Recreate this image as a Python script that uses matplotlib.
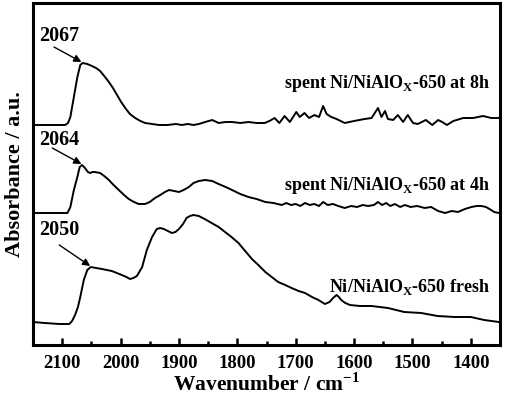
import matplotlib
matplotlib.use("Agg")
import matplotlib.pyplot as plt
from matplotlib.ticker import MultipleLocator

plt.rcParams['font.family'] = ['Liberation Serif', 'DejaVu Serif']
plt.rcParams['font.weight'] = 'bold'
plt.rcParams['mathtext.fontset'] = 'custom'
plt.rcParams['mathtext.rm'] = 'Liberation Serif:bold'

# ---- data (absorbance in arbitrary units, vertical offsets included) ----
wn_8h = [2150, 2095, 2090, 2086, 2080, 2074, 2069, 2065, 2057, 2049, 2042, 2035, 2028, 2020,
         2013, 2006, 1999, 1992, 1984, 1975, 1966, 1958, 1946, 1934, 1920, 1905, 1895, 1885,
         1875, 1866, 1855, 1843, 1832, 1820, 1809, 1795, 1781, 1767, 1753, 1745, 1736, 1728,
         1719, 1710, 1699, 1693, 1685, 1677, 1668, 1660, 1653, 1647, 1639, 1630, 1616, 1600,
         1582, 1570, 1559, 1553, 1547, 1542, 1533, 1525, 1516, 1508, 1499, 1491, 1477, 1466,
         1456, 1449, 1441, 1430, 1413, 1396, 1379, 1365, 1352]
ab_8h = [220, 220, 222, 228, 248, 268, 280, 282, 281, 279, 277, 274, 269, 263,
         257, 250, 243, 237, 231, 227, 224, 222, 221, 220, 220, 221, 220, 221,
         220, 221, 223, 225, 222, 223, 223, 222, 223, 222, 222, 224, 227, 222,
         229, 223, 233, 228, 232, 227, 230, 228, 239, 231, 228, 226, 222, 224,
         226, 227, 237, 228, 234, 226, 225, 230, 223, 230, 222, 221, 225, 220,
         225, 223, 220, 224, 227, 227, 229, 227, 227]

wn_4h = [2150, 2091, 2086, 2080, 2074, 2070, 2066, 2061, 2056, 2052, 2048, 2044, 2035, 2028,
         2020, 2012, 2003, 1994, 1986, 1977, 1969, 1958, 1950, 1941, 1932, 1924, 1917, 1908,
         1900, 1892, 1883, 1875, 1866, 1855, 1843, 1832, 1820, 1809, 1795, 1781, 1767, 1752,
         1738, 1724, 1716, 1708, 1700, 1692, 1684, 1676, 1668, 1660, 1653, 1645, 1636, 1627,
         1616, 1605, 1595, 1585, 1576, 1566, 1559, 1552, 1545, 1538, 1530, 1521, 1513, 1503,
         1492, 1479, 1468, 1456, 1444, 1433, 1422, 1410, 1399, 1390, 1382, 1374, 1368, 1360, 1352]
ab_4h = [132, 132, 138, 155, 168, 178, 180, 177, 173, 172, 173, 173, 172, 169,
         165, 160, 155, 150, 146, 143, 141, 141, 143, 147, 150, 153, 155, 154,
         153, 155, 158, 162, 164, 165, 164, 161, 158, 155, 151, 148, 146, 143,
         142, 140, 142, 140, 141, 139, 142, 140, 141, 139, 143, 140, 141, 139,
         137, 139, 138, 140, 139, 140, 143, 140, 142, 139, 141, 138, 140, 138,
         139, 137, 138, 134, 132, 134, 133, 136, 138, 139, 139, 138, 136, 133, 132]

wn_fr = [2150, 2130, 2105, 2088, 2083, 2078, 2073, 2069, 2063, 2057, 2051, 2042, 2032, 2015,
         1998, 1990, 1984, 1978, 1972, 1963, 1955, 1946, 1938, 1932, 1926, 1919, 1912, 1906,
         1900, 1893, 1887, 1881, 1875, 1866, 1856, 1844, 1832, 1821, 1810, 1798, 1788, 1775,
         1764, 1752, 1741, 1730, 1718, 1707, 1695, 1684, 1672, 1661, 1650, 1642, 1636, 1630,
         1626, 1622, 1615, 1607, 1590, 1570, 1542, 1514, 1485, 1457, 1428, 1400, 1377, 1352]
ab_fr = [23, 22, 21, 21, 24, 30, 38, 48, 65, 75, 78, 77, 76, 74,
         70, 68, 66, 67, 69, 78, 95, 108, 116, 117, 116, 114, 112, 113,
         116, 121, 127, 129, 130, 129, 126, 122, 118, 113, 108, 102, 95, 86,
         80, 73, 68, 63, 60, 57, 54, 52, 48, 45, 41, 43, 47, 50,
         48, 45, 42, 40, 39, 39, 37, 33, 32, 29, 28, 28, 25, 23]

label_8h = r'spent Ni/NiAlO$_{\mathregular{X}}$-650 at 8h'
label_4h = r'spent Ni/NiAlO$_{\mathregular{X}}$-650 at 4h'
label_fr = r'Ni/NiAlO$_{\mathregular{X}}$-650 fresh'
peak_labels = ['2067', '2064', '2050']

fig = plt.figure(figsize=(5.05, 3.96), dpi=100)
ax = fig.add_axes([33/505, (396-345)/396, (500-33)/505, (345-3)/396])

for wn, ab in [(wn_8h, ab_8h), (wn_4h, ab_4h), (wn_fr, ab_fr)]:
    ax.plot(wn, ab, color='black', lw=1.4, solid_joinstyle='round')

ax.set_xlim(2150, 1350)
ax.set_ylim(0, 342)
ax.set_yticks([])
ax.xaxis.set_major_locator(MultipleLocator(100))
ax.xaxis.set_minor_locator(MultipleLocator(50))
ax.tick_params(axis='x', which='major', direction='in', length=5, width=1.8,
               labelsize=13.5, pad=7)
ax.tick_params(axis='x', which='minor', direction='in', length=3, width=1.8)
for lab in ax.get_xticklabels():
    lab.set_fontweight('bold')
for s in ax.spines.values():
    s.set_linewidth(2.2)

ax.set_xlabel(r'Wavenumber / cm$^{\mathregular{-1}}$', fontsize=15.5, fontweight='bold', labelpad=1)
ax.set_ylabel('Absorbance / a.u.', fontsize=16, fontweight='bold', labelpad=6)

arrow_kw = dict(arrowstyle='-|>', color='black', lw=1.0, mutation_scale=11, shrinkA=0, shrinkB=0)
ax.text(2105, 309, peak_labels[0], fontsize=14.5, fontweight='bold', ha='center', va='center')
ax.annotate('', xy=(2067, 283), xytext=(2114, 298), arrowprops=arrow_kw)
ax.text(2105, 205, peak_labels[1], fontsize=14.5, fontweight='bold', ha='center', va='center')
ax.annotate('', xy=(2067, 181), xytext=(2117, 197), arrowprops=arrow_kw)
ax.text(2105, 115, peak_labels[2], fontsize=14.5, fontweight='bold', ha='center', va='center')
ax.annotate('', xy=(2052, 79), xytext=(2105, 100), arrowprops=arrow_kw)

ax.text(1368, 262, label_8h, fontsize=13, fontweight='bold', ha='right', va='center')
ax.text(1368, 160, label_4h, fontsize=13, fontweight='bold', ha='right', va='center')
ax.text(1368, 58, label_fr, fontsize=13, fontweight='bold', ha='right', va='center')

fig.savefig('out.png', dpi=100)
